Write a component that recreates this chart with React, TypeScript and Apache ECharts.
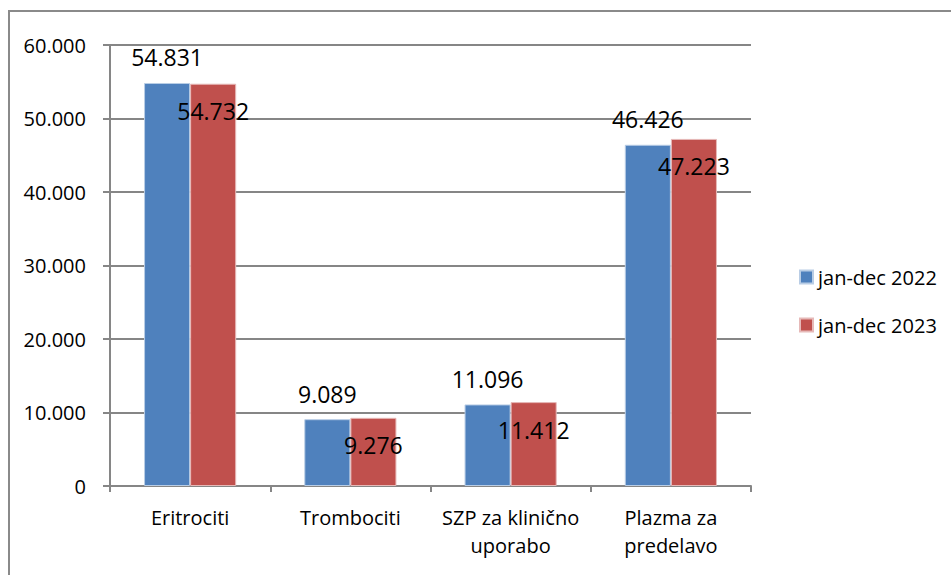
import React, { useEffect, useRef } from "react";
import * as echarts from "echarts";

const categories = ["Eritrociti", "Trombociti", "SZP za klinično\nuporabo", "Plazma za\npredelavo"];
const seriesNames = ["jan-dec 2022", "jan-dec 2023"];
const values2022 = [54831, 9089, 11096, 46426];
const values2023 = [54732, 9276, 11412, 47223];

const fmt = (v: number) => (v === 0 ? "0" : String(Math.round(v)).replace(/\B(?=(\d{3})+(?!\d))/g, "."));

const FONT = "Open Sans";

export default function App() {
  const ref = useRef<HTMLDivElement>(null);
  useEffect(() => {
    document.body.style.margin = "0";
    const chart = echarts.init(ref.current!, null, { renderer: "svg" });
    chart.setOption({
      animation: false,
      backgroundColor: "#ffffff",
      textStyle: { fontFamily: FONT },
      graphic: [
        {
          type: "rect",
          shape: { x: 9, y: 11, width: 2000, height: 2000 },
          style: { fill: "none", stroke: "#8a8a8a", lineWidth: 2 },
          silent: true,
        },
      ],
      grid: { left: 110, right: 200, top: 45, bottom: 89, containLabel: false },
      legend: {
        orient: "vertical",
        left: 794,
        top: 262,
        itemWidth: 13,
        itemHeight: 13,
        itemGap: 28,
        icon: "rect",
        data: seriesNames,
        textStyle: { fontFamily: FONT, fontSize: 20, color: "#000", lineHeight: 20 },
      },
      xAxis: {
        type: "category",
        data: categories,
        axisLine: { lineStyle: { color: "#868686", width: 2 } },
        axisTick: { show: true, length: 6, lineStyle: { color: "#868686", width: 2 } },
        axisLabel: {
          color: "#000",
          fontFamily: FONT,
          fontSize: 20,
          lineHeight: 28,
          margin: 17,
          interval: 0,
        },
      },
      yAxis: {
        type: "value",
        min: 0,
        max: 60000,
        interval: 10000,
        axisLine: { show: true, lineStyle: { color: "#868686", width: 2 } },
        axisTick: { show: true, length: 7, lineStyle: { color: "#868686", width: 2 } },
        splitLine: { show: true, lineStyle: { color: "#868686", width: 2 } },
        axisLabel: {
          color: "#000",
          fontFamily: FONT,
          fontSize: 20,
          margin: 24,
          formatter: (v: number) => fmt(v),
        },
      },
      series: [
        {
          name: seriesNames[0],
          type: "bar",
          data: values2022,
          barGap: "0%",
          barCategoryGap: "42.5%",
          itemStyle: { color: "#4F81BD", borderColor: "#b9cde5", borderWidth: 1 },
          label: {
            show: true,
            position: "top",
            distance: 14,
            color: "#000",
            fontFamily: FONT,
            fontSize: 23,
            formatter: (p: any) => fmt(p.value),
          },
        },
        {
          name: seriesNames[1],
          type: "bar",
          data: values2023,
          barGap: "0%",
          barCategoryGap: "42.5%",
          itemStyle: { color: "#C0504D", borderColor: "#e6b9b8", borderWidth: 1 },
          label: {
            show: true,
            position: "insideTop",
            distance: 16,
            color: "#000",
            fontFamily: FONT,
            fontSize: 23,
            formatter: (p: any) => fmt(p.value),
          },
        },
      ],
    });
    return () => chart.dispose();
  }, []);
  return <div ref={ref} style={{ width: 951, height: 575 }} />;
}
